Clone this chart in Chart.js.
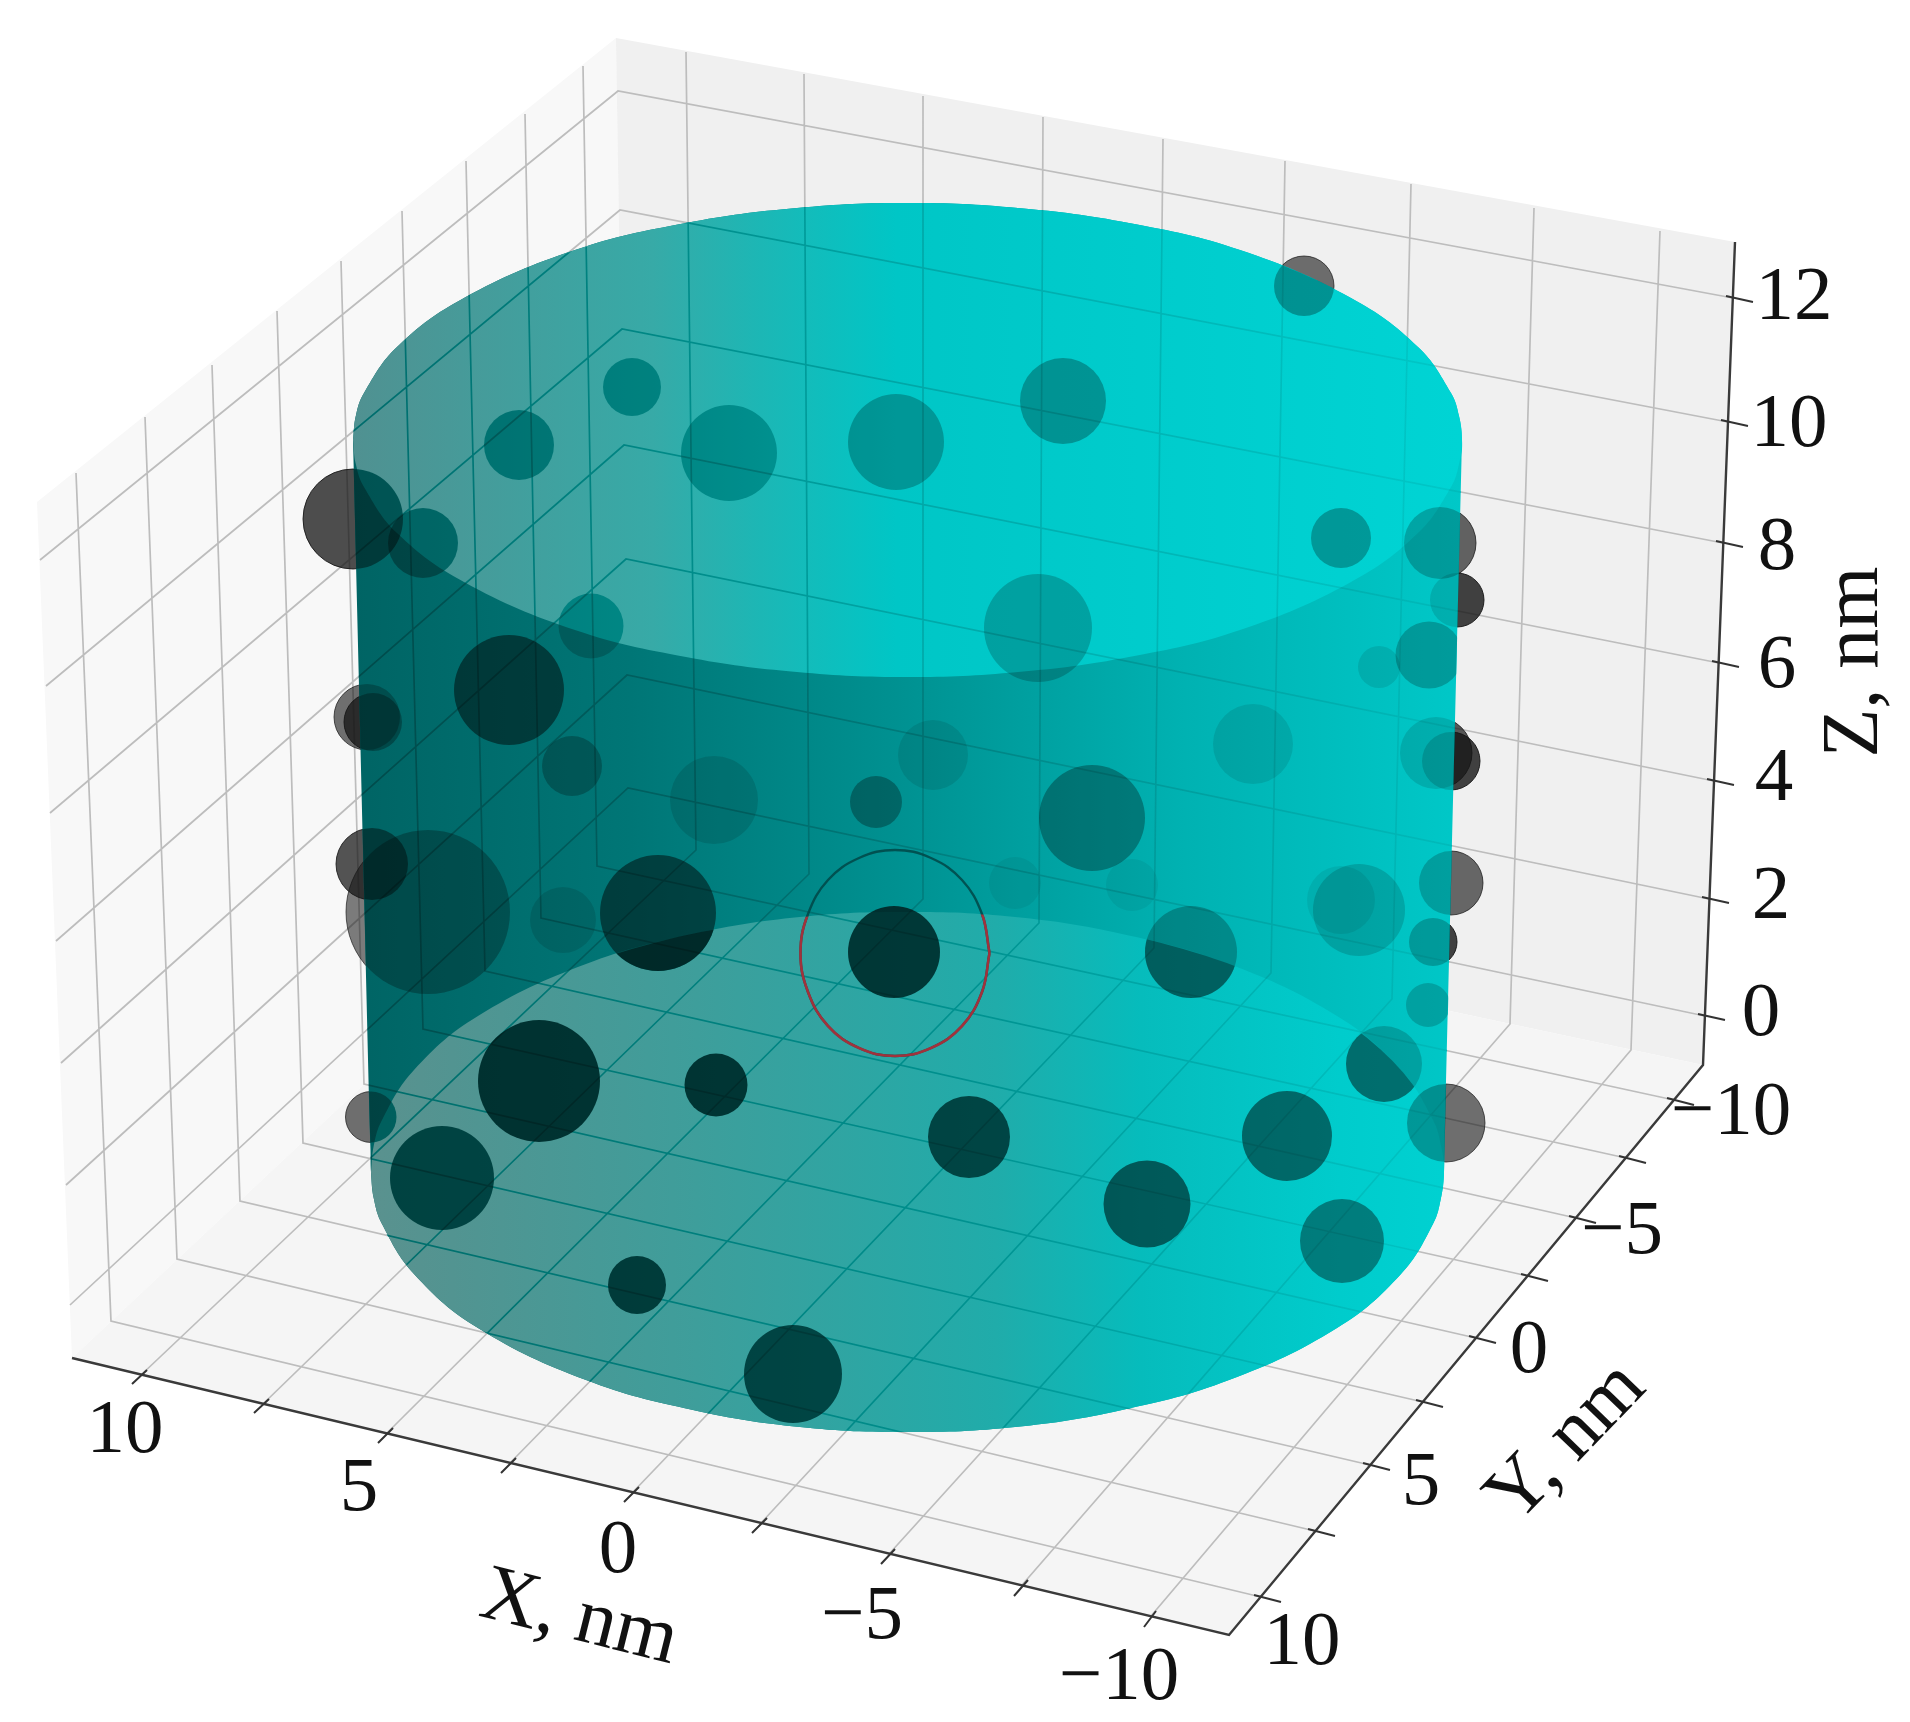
<!DOCTYPE html>
<html><head><meta charset="utf-8">
<style>html,body{margin:0;padding:0;background:#fff}canvas{display:block}</style>
<script src="https://cdn.jsdelivr.net/npm/chart.js@4"></script></head>
<body><canvas id="c" width="1910" height="1722"></canvas>
<script>
// ---- spheres (image plane position, radius, opacity)
const sphereX=[632,519,729,896,353,423,591,509,367,373,572,714,933,876,372,428,563,658,894,539,716,371,442,637,793,969,1147,1287,1342,1384,1446,1428,1433,1359,1341,1451,1191,1015,1132,1092,1304,1063,1341,1440,1457,1429,1379,1038,1253,1436,1451];
const sphereY=[387,445,453,442,519,543,626,690,717,722,766,800,755,802,864,912,920,913,952,1081,1085,1117,1178,1285,1374,1137,1204,1136,1241,1064,1123,1005,942,910,900,883,952,883,885,818,286,401,538,543,600,655,667,628,744,753,761];
const sphereR=[29,35,48,48,50,35,32.5,55,33,29,30,44,35,26,36,82,33,58,46,61,31.5,25.5,52,29,49,41,43.5,45,42,38,39,22,24,46,34,32,46,26,26,53,30,43,30,36,27,33.5,21,54,40,36,29];
const sphereAlpha=[.24,.27,.22,.24,.43,.33,.2,.48,.25,.3,.25,.12,.1,.3,.43,.28,.12,.48,.67,.67,.67,.35,.55,.62,.58,.6,.53,.48,.39,.18,.27,.18,.22,.15,.07,.2,.24,.06,.06,.3,.3,.27,.27,.22,.12,.22,.1,.2,.1,.12,.15];
const sphereOuterAlpha=[0,0,0,0,.75,0,0,0,.6,.75,0,0,0,0,.72,.55,0,0,0,0,0,.6,0,0,0,0,0,0,0,0,.6,0,.8,0,0,.63,0,0,0,0,.6,0,0,.65,.8,0,0,0,0,.7,.8];
const floorShadeIndex=[17,29,36];
const floorShadeAlpha=[.5,.35,.35];
// ---- axis ticks
const zTicks=["12","10","8","6","4","2","0"];
const xTicks=["10","5","0","\u22125","\u221210"];
const yTicks=["\u221210","\u22125","0","5","10"];
// ---- box outline in the image plane
const paneLeft=[[37,502],[616,38],[629,836],[72,1358]];
const paneRight=[[616,38],[1735,242],[1703,1065],[629,836]];
const paneFloor=[[629,836],[1703,1065],[1229,1635],[72,1358]];
const axisEdge=[[72,1358],[1229,1635],[1703,1065],[1735,242]];
// ---- grid lines
const zGridLeft=[[40,560],[46,686],[50,813],[56,941],[61,1063],[66,1185],[70,1305]];
const zGridBack=[[618,91],[620,210],[622,329],[624,445],[626,559],[627,675],[628,788]];
const zGridRight=[[1733,298],[1728,422],[1723,543],[1719,663],[1714,781],[1709,899],[1705,1016]];
const yGridTop=[[583,66],[525,114],[466,161],[402,211],[341,261],[277,311],[212,365],[145,417],[76,473]];
const yGridBase=[[597,866],[541,918],[485,971],[423,1029],[364,1084],[303,1143],[240,1201],[177,1259],[111,1321]];
const yGridFront=[[1674,1100],[1626,1158],[1576,1218],[1528,1276],[1476,1338],[1423,1402],[1370,1465],[1315,1531],[1261,1597]];
const xGridTop=[[686,52],[804,74],[923,96],[1043,117],[1163,139],[1285,161],[1411,184],[1534,208],[1660,231]];
const xGridBase=[[696,850],[809,874],[923,899],[1039,923],[1154,948],[1271,973],[1392,999],[1510,1024],[1631,1050]];
const xGridFront=[[141,1375],[263,1404],[387,1433],[510,1463],[633,1492],[761,1523],[889,1554],[1022,1585],[1151,1616]];
// ---- tick marks (inner end, outer end)
const xTickIn=[[147,1370],[269,1399],[393,1428],[516,1458],[639,1487],[767,1518],[895,1549],[1028,1580],[1156,1611]];
const xTickOut=[[132,1384],[254,1413],[378,1443],[501,1473],[624,1502],[752,1533],[881,1564],[1014,1596],[1144,1627]];
const yTickIn=[[1667,1098],[1619,1156],[1569,1216],[1521,1274],[1469,1336],[1416,1400],[1363,1463],[1308,1529],[1254,1595]];
const yTickOut=[[1694,1105],[1646,1163],[1596,1223],[1548,1281],[1496,1343],[1443,1407],[1390,1470],[1335,1536],[1281,1602]];
const zTickIn=[[1726,296],[1721,420],[1716,541],[1712,661],[1707,779],[1702,897],[1698,1014]];
const zTickOut=[[1753,302],[1748,426],[1743,547],[1739,667],[1734,785],[1729,903],[1725,1020]];
// ---- cylinder rims and sides
const rimTopX=[353,355.8,364,397,464,575,686,797,907.5,1018,1129,1240,1351,1418,1451,1459,1462];
const rimTopUpper=[440,416,393,347,298,250,223,208,203,208,223,250,298,347,393,416,440];
const rimTopLower=[440,464,487,533,582,630,657,672,677,672,657,630,582,533,487,464,440];
const rimBaseX=[371,373.7,382,414,478,586,693,800,907.5,1015,1122,1229,1337,1401,1433,1441,1444];
const rimBaseUpper=[1172,1146,1120,1070,1016,964,934,917,912,917,934,964,1016,1070,1120,1146,1172];
const rimBaseLower=[1172,1198,1224,1274,1328,1380,1410,1427,1432,1427,1410,1380,1328,1274,1224,1198,1172];
const sideRight=[[1461.5,460],[1444.5,1150]];
const sideLeft=[[370.5,1150],[353.5,460]];
// ---- red outline
const redX=[989.5,982,962,931,895,859,828,808,800.5,808,828,859,895,931,962,982,989.5];
const redY=[953,992,1026,1048,1056,1048,1026,992,953,914,880,858,850,858,880,914,953];
// ---- text placement
const zTickPos=[[1794,299],[1789,426],[1777,549],[1777,667],[1774,780],[1771,898],[1761,1015]];
const xTickPos=[[125,1432],[359,1490],[618,1552],[862,1618],[1119,1679]];
const yTickPos=[[1731,1114],[1622,1233],[1529,1352],[1421,1484],[1302,1644]];
const axisTitles=[["X, nm",579,1619,14],["Y, nm",1567,1443,-46],["Z, nm",1856,662,-90]];

const pts=a=>a.map(p=>({x:p[0],y:p[1]}));
const gap={x:null,y:null};
function lines(...cols){const o=[];for(let i=0;i<cols[0].length;i++){cols.forEach(c=>o.push({x:c[i][0],y:c[i][1]}));o.push(gap);}return o;}
const zip=(xs,ys)=>xs.map((x,i)=>({x,y:ys[i]}));
const rev=a=>a.slice().reverse();
const gridData=[...lines(zGridLeft,zGridBack,zGridRight),...lines(yGridTop,yGridBase,yGridFront),...lines(xGridTop,xGridBase,xGridFront)];
const tickData=[...lines(xTickIn,xTickOut),...lines(yTickIn,yTickOut),...lines(zTickIn,zTickOut)];
const sphereIdx=sphereX.map((_,i)=>i);

function grad(stops){return ({chart})=>{
  const s=chart.scales.x; if(!s||!chart.chartArea) return stops[0][1];
  const g=chart.ctx.createLinearGradient(s.getPixelForValue(353),0,s.getPixelForValue(1462),0);
  stops.forEach(([o,c])=>g.addColorStop(o,c)); return g;};}
const gradUpper=grad([[0,'rgb(80,145,145)'],[.27,'rgb(55,170,167)'],[.36,'rgb(30,182,180)'],[.49,'rgb(0,198,198)'],[1,'rgb(0,212,212)']]);
const gradBand=grad([[0,'rgb(0,100,100)'],[.25,'rgb(0,118,118)'],[.5,'rgb(0,146,146)'],[.75,'rgb(0,178,178)'],[1,'rgb(0,200,200)']]);
const gradLower=grad([[0,'rgb(92,145,142)'],[.09,'rgb(82,148,145)'],[.31,'rgb(62,158,155)'],[.58,'rgb(32,172,170)'],[.71,'rgb(6,188,188)'],[.89,'rgb(0,204,204)'],[1,'rgb(0,210,210)']]);
const gradGrid=grad([[0,'rgb(0,190,190)'],[.5,'rgb(0,215,215)'],[1,'rgb(0,240,240)']]);

const poly=(data,fillColor)=>({type:'line',data,backgroundColor:fillColor,fill:'shape',borderWidth:0,borderColor:'transparent',pointRadius:0,tension:0});
const curve=(data,fillColor)=>({type:'line',data,backgroundColor:fillColor,fill:'shape',borderWidth:0,borderColor:'transparent',pointRadius:0,tension:0.4,clip:false});
const stroke=(data,color,w,extra)=>Object.assign({type:'line',data,borderColor:color,borderWidth:w,fill:false,pointRadius:0,tension:0,spanGaps:false},extra||{});
const shade=(a,f)=>{const k=Math.round(255*(1-a)*f);return `rgb(0,${k},${k})`;};
const outerBubbles=idx=>({type:'bubble',
  data:idx.map(i=>({x:sphereX[i],y:sphereY[i],r:sphereR[i]})),
  backgroundColor:idx.map(i=>`rgba(20,20,20,${sphereOuterAlpha[i]})`),
  borderColor:idx.map(i=>`rgba(20,20,20,${sphereOuterAlpha[i]+.1})`),borderWidth:1,hoverRadius:0});
const innerBubbles=(idx,alphaOf,clipTo)=>({type:'bubble',clipTo,blend:'multiply',
  data:idx.map(i=>({x:sphereX[i],y:sphereY[i],r:sphereR[i]})),
  backgroundColor:idx.map(i=>shade(alphaOf(i),1)),
  borderColor:'rgba(0,0,0,0)',borderWidth:0,hoverRadius:0});

const paint=[
  poly(pts(paneLeft),'#f8f8f8'),
  poly(pts(paneRight),'#f0f0f0'),
  poly(pts(paneFloor),'#f5f5f5'),
  stroke(gridData,'#bdbdbd',1.7),
  stroke(pts(axisEdge),'#3a3a3a',2.4),
  stroke(tickData,'#333',2),
  outerBubbles(sphereIdx.filter(i=>sphereOuterAlpha[i]>0)),
  curve([...zip(rimTopX,rimTopUpper),...pts(sideRight),...zip(rev(rimBaseX),rev(rimBaseLower)),...pts(sideLeft)],gradBand),
  curve([...zip(rimTopX,rimTopUpper),...zip(rev(rimTopX),rev(rimTopLower)).slice(1)],gradUpper),
  curve([...zip(rimBaseX,rimBaseUpper),...zip(rev(rimBaseX),rev(rimBaseLower)).slice(1)],gradLower),
  stroke(gridData,gradGrid,1.7,{clipTo:'body',blend:'multiply'}),
  innerBubbles(sphereIdx,i=>sphereAlpha[i],'body'),
  innerBubbles(floorShadeIndex,i=>floorShadeAlpha[floorShadeIndex.indexOf(i)],'floor'),
  stroke(zip(redX,redY),'rgba(0,70,70,.85)',2.4,{tension:.4}),
  stroke(zip(redX,redY),'rgb(160,50,60)',2.6,{tension:.4,clipTo:'floor'})
];
paint.forEach((d,i)=>{d.order=paint.length-i;});

function rimEllipse(xs,up,lo){
  const a=Math.max(...xs),b=Math.min(...xs),t=Math.min(...up),l=Math.max(...lo);
  return [(a+b)/2,(t+l)/2,(a-b)/2,(l-t)/2];
}
const regionClip={id:'regionClip',
  beforeDatasetDraw(chart,args){
    const ds=chart.data.datasets[args.index]; if(!ds.clipTo) return;
    const ctx=chart.ctx,sx=chart.scales.x,sy=chart.scales.y;
    const T=rimEllipse(rimTopX,rimTopUpper,rimTopLower),B=rimEllipse(rimBaseX,rimBaseUpper,rimBaseLower);
    const px=v=>sx.getPixelForValue(v),py=v=>sy.getPixelForValue(v);
    ctx.save();ctx.beginPath();
    if(ds.clipTo==='floor'){ctx.ellipse(px(B[0]),py(B[1]),B[2],B[3],0,0,Math.PI*2);}
    else{
      ctx.ellipse(px(T[0]),py(T[1]),T[2],T[3],0,Math.PI,Math.PI*2);
      ctx.ellipse(px(B[0]),py(B[1]),B[2],B[3],0,0,Math.PI);
      ctx.closePath();
    }
    ctx.clip();
    if(ds.blend) ctx.globalCompositeOperation=ds.blend;
  },
  afterDatasetDraw(chart,args){
    if(chart.data.datasets[args.index].clipTo) chart.ctx.restore();
  }};
const axisText={id:'axisText',
  afterDraw(chart){
    const ctx=chart.ctx,sx=chart.scales.x,sy=chart.scales.y;
    ctx.save();ctx.fillStyle='#111';ctx.textAlign='center';ctx.textBaseline='middle';
    ctx.font='77px "Liberation Serif"';
    const put=(labels,pos)=>labels.forEach((t,i)=>ctx.fillText(t,sx.getPixelForValue(pos[i][0]),sy.getPixelForValue(pos[i][1])));
    put(zTicks,zTickPos);put(xTicks,xTickPos);put(yTicks,yTickPos);
    ctx.font='80px "Liberation Serif"';
    axisTitles.forEach(([t,x,y,deg])=>{ctx.save();ctx.translate(sx.getPixelForValue(x),sy.getPixelForValue(y));ctx.rotate(deg*Math.PI/180);ctx.fillText(t,0,0);ctx.restore();});
    ctx.restore();
  }};
new Chart(document.getElementById('c'),{
  type:'line',
  data:{datasets:paint},
  plugins:[regionClip,axisText],
  options:{responsive:false,animation:false,devicePixelRatio:1,
    layout:{padding:0,autoPadding:false},
    events:[],
    plugins:{legend:{display:false},tooltip:{enabled:false},title:{display:false}},
    scales:{
      x:{type:'linear',min:0,max:1910,display:false},
      y:{type:'linear',min:0,max:1722,reverse:true,display:false}
    }}
});
</script></body></html>
